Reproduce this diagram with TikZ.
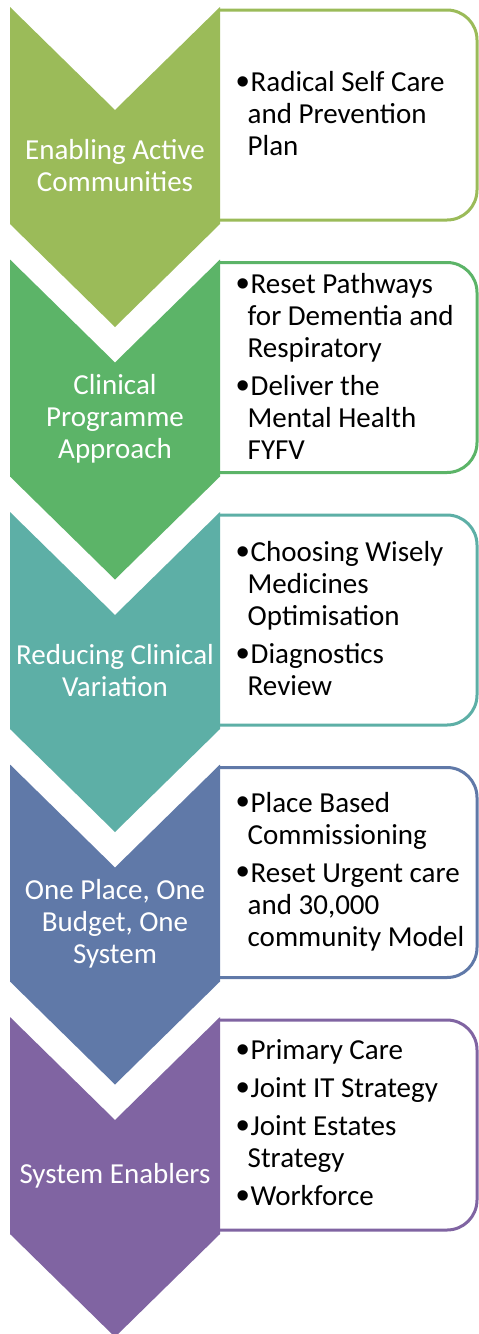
\documentclass[tikz,border=0pt]{standalone}
\usepackage{fontspec}
\setmainfont{Carlito}
\newfontfamily\bulletfont{Liberation Sans}
\definecolor{cA}{HTML}{9BBB59}
\definecolor{cB}{HTML}{5CB468}
\definecolor{cC}{HTML}{5DAFA6}
\definecolor{cD}{HTML}{6079A8}
\definecolor{cE}{HTML}{8064A2}
\newcommand{\bul}{\makebox[14.5pt][l]{\hspace*{0.5pt}\raisebox{-2.5pt}{\bulletfont\fontsize{38}{32}\selectfont •}}}
\newcommand{\ind}{\hspace*{11.5pt}}
\newcommand{\drawstage}[2]{%
  \filldraw[itembox=#2] (220,#1+3) -- (447,#1+3) arc[start angle=-90,end angle=0,radius=30] -- (477,#1+183) arc[start angle=0,end angle=90,radius=30] -- (220,#1+213);
  \fill[#2] (10,#1) -- (115,#1+103) -- (220,#1) -- (220,#1+217) -- (115,#1+320) -- (10,#1+217) -- cycle;
}
\tikzset{
  itembox/.style={fill=white, draw=#1, line width=3pt},
  chevtext/.style={text=white, align=center, font=\fontsize{29}{32}\selectfont, inner sep=0pt},
  itemtext/.style={text=black, align=left, font=\fontsize{29}{32}\selectfont, anchor=west, inner sep=0pt},
}
\begin{document}
\begin{tikzpicture}[x=1pt,y=-1pt]
\useasboundingbox (0,0) rectangle (479,1334);
\fill[white] (0,0) rectangle (479,1334);
\drawstage{7}{cA}
\drawstage{259.5}{cB}
\drawstage{512}{cC}
\drawstage{764.5}{cD}
\drawstage{1017}{cE}
\node[chevtext] (ch1) at (115,7+159) {Enabling Active\\Communities};
\node[chevtext] (ch2) at (115,259.5+159) {Clinical\\Programme\\Approach};
\node[chevtext] (ch3) at (115,512+159) {Reducing Clinical\\Variation};
\node[chevtext] (ch4) at (115,764.5+159) {One Place, One\\Budget, One\\System};
\node[chevtext] (ch5) at (115,1017+159) {System Enablers};
\node[itemtext] (it1) at (236,7+107) {\bul Radical Self Care\\\ind and Prevention\\\ind Plan};
\node[itemtext] (it2) at (236,259.5+107) {\bul Reset Pathways\\\ind for Dementia and\\\ind Respiratory\\[6pt]\bul Deliver the\\\ind Mental Health\\\ind FYFV};
\node[itemtext] (it3) at (236,512+107) {\bul Choosing Wisely\\\ind Medicines\\\ind Optimisation\\[6pt]\bul Diagnostics\\\ind Review};
\node[itemtext] (it4) at (236,764.5+107) {\bul Place Based\\\ind Commissioning\\[6pt]\bul Reset Urgent care\\\ind and 30,000\\\ind community Model};
\node[itemtext] (it5) at (236,1017+107) {\bul Primary Care\\[6pt]\bul Joint IT Strategy\\[6pt]\bul Joint Estates\\\ind Strategy\\[6pt]\bul Workforce};
\end{tikzpicture}
\end{document}
